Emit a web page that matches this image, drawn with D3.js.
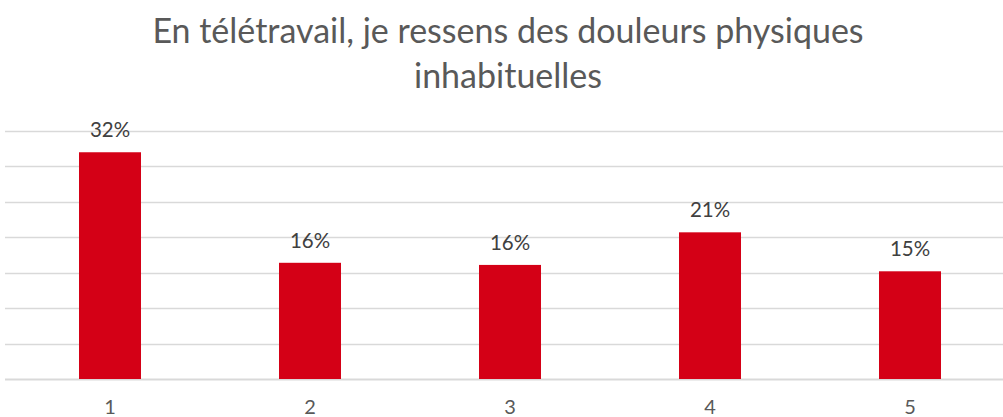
<!DOCTYPE html>
<html>
<head>
<meta charset="utf-8">
<script src="https://cdn.jsdelivr.net/npm/d3@7"></script>
<style>
  html, body { margin: 0; padding: 0; background: #fff; }
  svg { display: block; font-family: Lato, "Open Sans", sans-serif; }
</style>
</head>
<body>
<svg id="chart" width="1003" height="417"></svg>
<script>
// Response scale (1 = strongly disagree ... 5 = strongly agree)
const categories = ["1", "2", "3", "4", "5"];
// Share of respondents per answer
const shares = [0.32, 0.164, 0.161, 0.207, 0.152];
// Horizontal gridlines every 5 %
const gridTicks = [0, 0.05, 0.10, 0.15, 0.20, 0.25, 0.30, 0.35];
const titleLines = ["En télétravail, je ressens des douleurs physiques", "inhabituelles"];

const svg = d3.select("#chart");
const W = 1003, H = 417;
const margin = { left: 10, right: -7, top: 131, bottom: 38 };

const x = d3.scaleBand()
  .domain(categories)
  .range([margin.left, W - margin.right])
  .paddingInner(0.69)
  .paddingOuter(0.345);

const y = d3.scaleLinear()
  .domain([0, 0.35])
  .range([H - margin.bottom, margin.top]);

// Gridlines
svg.append("g")
  .selectAll("line")
  .data(gridTicks)
  .join("line")
  .attr("x1", 5)
  .attr("x2", W)
  .attr("y1", d => Math.round(y(d)) + 0.5)
  .attr("y2", d => Math.round(y(d)) + 0.5)
  .attr("stroke", "#d9d9d9")
  .attr("stroke-width", d => d === 0 ? 2 : 1.5);

// Bars
svg.append("g")
  .selectAll("rect")
  .data(categories)
  .join("rect")
  .attr("x", (d) => x(d))
  .attr("width", x.bandwidth())
  .attr("y", (d, i) => y(shares[i]))
  .attr("height", (d, i) => y(0) - y(shares[i]))
  .attr("fill", "#d40016");

// Value labels
const fmt = d3.format(".0%");
svg.append("g")
  .selectAll("text")
  .data(categories)
  .join("text")
  .attr("x", d => x(d) + x.bandwidth() / 2)
  .attr("y", (d, i) => y(shares[i]) - 15)
  .attr("text-anchor", "middle")
  .attr("font-size", 20.5)
  .attr("fill", "#404040")
  .text((d, i) => fmt(shares[i]));

// Category axis
const xAxis = d3.axisBottom(x).tickSize(0).tickPadding(21);
const gx = svg.append("g")
  .attr("transform", `translate(0,${y(0)})`)
  .call(xAxis);
gx.select(".domain").remove();
gx.selectAll("text")
  .attr("font-size", 20)
  .attr("font-family", "Lato, 'Open Sans', sans-serif")
  .attr("fill", "#595959");

// Title
svg.append("g")
  .selectAll("text")
  .data(titleLines)
  .join("text")
  .attr("x", 508)
  .attr("y", (d, i) => 43 + i * 45)
  .attr("text-anchor", "middle")
  .attr("font-size", 34)
  .attr("fill", "#595959")
  .text(d => d);
</script>
</body>
</html>
